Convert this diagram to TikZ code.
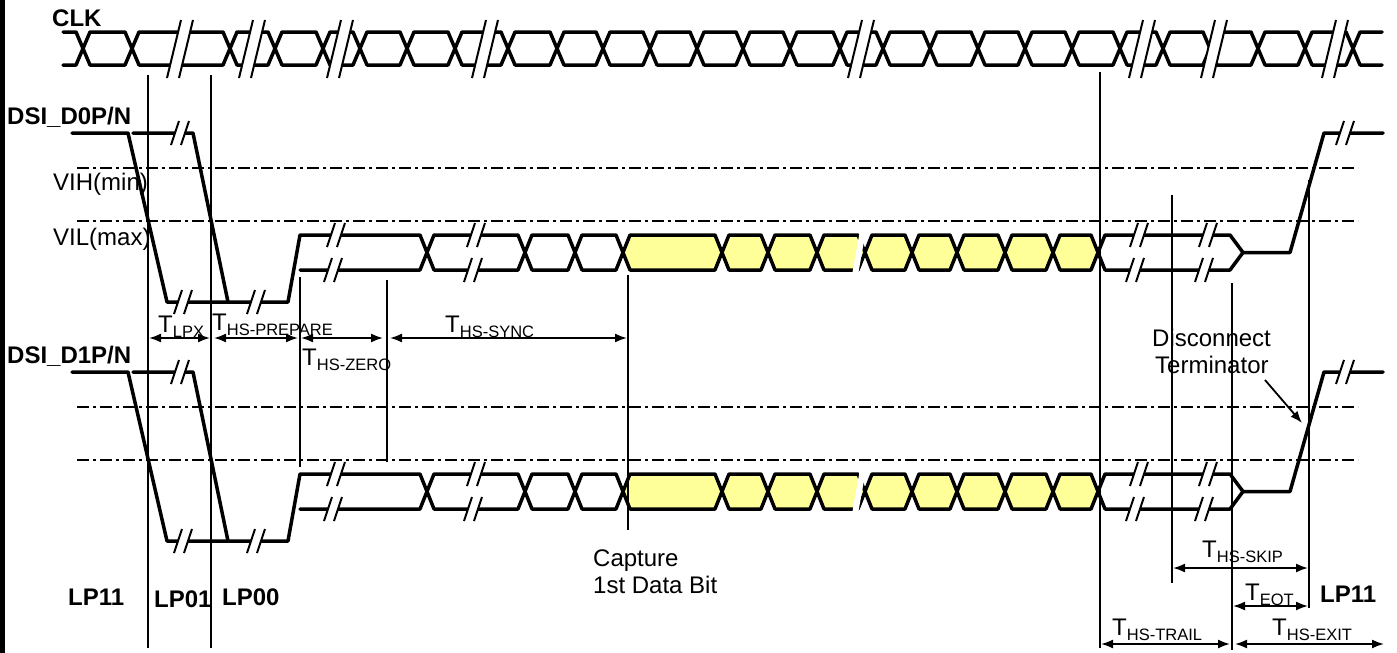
\documentclass[tikz,border=0pt]{standalone}
\usepackage{fontspec}
\setmainfont{Liberation Sans}
\usetikzlibrary{arrows.meta}
\definecolor{hsyellow}{RGB}{255,255,153}
\tikzset{
  wave/.style={line width=3.5pt, line join=round, line cap=round},
  vline/.style={line width=1.3pt},
  thr/.style={line width=1.5pt, dash pattern=on 12pt off 4pt on 3pt off 4pt},
  dimarrow/.style={line width=1.8pt, {Latex[length=12pt,width=9pt]}-{Latex[length=12pt,width=9pt]}},
  onearrow/.style={line width=1.8pt, -{Latex[length=12pt,width=9pt]}},
  lbl/.style={inner sep=0pt, anchor=base west, font=\fontsize{24}{27}\selectfont},
  blbl/.style={inner sep=0pt, anchor=base west, font=\fontsize{24}{27}\selectfont\bfseries},
  slashline/.style={line width=2pt},
}
\newcommand\tsub[1]{\raisebox{-5.5pt}{\fontsize{16.5}{17}\selectfont #1}}
\newcommand\hexc[5]{%
  \filldraw[wave, fill=#5] (#1,{(#3+#4)/2}) -- ({#1+7},#3) -- ({#2-7},#3) -- (#2,{(#3+#4)/2}) -- ({#2-7},#4) -- ({#1+7},#4) -- cycle;}
\newcommand\brk[2]{%
  \fill[white] ({#1-1},{#2-12}) -- ({#1+9},{#2-12}) -- ({#1+1},{#2+12}) -- ({#1-9},{#2+12}) -- cycle;
  \draw[slashline] ({#1-1},{#2-12}) -- ({#1-9},{#2+12});
  \draw[slashline] ({#1+9},{#2-12}) -- ({#1+1},{#2+12});}
\newcommand\cbrk[1]{%
  \fill[white] ({#1+1},20) -- ({#1+13},20) -- ({#1-1},78) -- ({#1-13},78) -- cycle;
  \draw[slashline] ({#1+1},20) -- ({#1-13},78);
  \draw[slashline] ({#1+13},20) -- ({#1-1},78);}
\newcommand\lanewave{%
  \draw[wave] (72,133) -- (128,133) -- (167,302) -- (288,302) -- (300,235) -- (420,235) -- (427,252.5) -- (420,270) -- (300,270);
  \draw[wave] (133,133) -- (193,133) -- (228,302);
  \foreach \a/\b in {427/525,525/575,575/623} {\hexc{\a}{\b}{235}{270}{white}}
  \foreach \a/\b in {623/722,722/768,768/817,817/865,865/912,912/957,957/1005,1005/1053,1053/1098} {\hexc{\a}{\b}{235}{270}{hsyellow}}
  \filldraw[wave, fill=white] (1098,252.5) -- (1105,235) -- (1230,235) -- (1243,252.5) -- (1230,270) -- (1105,270) -- cycle;
  \draw[wave] (1243,252.5) -- (1290,252.5) -- (1324,133) -- (1383,133);
  \fill[white] (860,230) -- (866,230) -- (858,275) -- (852,275) -- cycle;
  \brk{180}{133}
  \brk{183}{302}
  \brk{256}{302}
  \brk{336}{235}\brk{333}{270}
  \brk{476}{235}\brk{473}{270}
  \brk{1139}{235}\brk{1135}{270}
  \brk{1208}{235}\brk{1204}{270}
  \brk{1345}{133}
  \draw[thr] (77,168) -- (1358,168);
  \draw[thr] (77,221) -- (1358,221);
}
\begin{document}
\begin{tikzpicture}[x=1pt,y=-1pt]
\useasboundingbox (0,0) rectangle (1397,653);
\fill (0,0) rectangle (5,653);
% CLK
\node[blbl] (clk) at (52,27) {CLK};
\draw[wave] (63,32) -- (76,32) -- (83,48.5) -- (76,65) -- (63,65);
\foreach \a/\b in {83/132,132/230,230/275,275/323,323/360,360/407,407/455,455/508,508/557,557/603,603/650,650/697,697/743,743/790,790/840,840/883,883/930,930/978,978/1025,1025/1072,1072/1120,1120/1163,1163/1210,1210/1258,1258/1305,1305/1353}
  {\hexc{\a}{\b}{32}{65}{white}}
\draw[wave] (1382,32) -- (1360,32) -- (1353,48.5) -- (1360,65) -- (1382,65);
\cbrk{180}\cbrk{252}\cbrk{340}\cbrk{485}\cbrk{861}\cbrk{1142}\cbrk{1214}\cbrk{1335}
% lanes
\node[blbl] (d0) at (7,124) {DSI\_D0P/N};
\node[lbl] (vih) at (53,190) {VIH(min)};
\node[lbl] (vil) at (53,245) {VIL(max)};
\lanewave
\node[blbl] (d1) at (7,363) {DSI\_D1P/N};
\begin{scope}[yshift=-239pt]
\lanewave
\end{scope}
% vertical markers
\draw[vline] (148,75) -- (148,648);
\draw[vline] (211,75) -- (211,648);
\draw[vline] (300,277) -- (300,467);
\draw[vline] (387,280) -- (387,462);
\draw[vline] (628,275) -- (628,530);
\draw[vline] (1100,72) -- (1100,648);
\draw[vline] (1172,195) -- (1172,583);
\draw[vline] (1232,283) -- (1232,650);
\draw[vline] (1309,180) -- (1309,608);
% timing arrows
\draw[dimarrow] (149,338) -- (210,338);
\draw[dimarrow] (214,338) -- (298,338);
\draw[dimarrow] (301,338) -- (383,338);
\draw[dimarrow] (390,338) -- (627,338);
\draw[dimarrow] (1173,568) -- (1308,568);
\draw[dimarrow] (1233,606) -- (1308,606);
\draw[dimarrow] (1101,644) -- (1230,644);
\draw[dimarrow] (1235,644) -- (1384,644);
\node[lbl] (tlpx) at (158,332) {T\tsub{LPX}};
\node[lbl] (tprep) at (212,330) {T\tsub{HS-PREPARE}};
\node[lbl] (tzero) at (302,365) {T\tsub{HS-ZERO}};
\node[lbl] (tsync) at (445,332) {T\tsub{HS-SYNC}};
\node[lbl] (tskip) at (1202,557) {T\tsub{HS-SKIP}};
\node[lbl] (teot) at (1245,600) {T\tsub{EOT}};
\node[lbl] (ttrail) at (1112,635) {T\tsub{HS-TRAIL}};
\node[lbl] (texit) at (1272,635) {T\tsub{HS-EXIT}};
% other labels
\node[lbl] (cap1) at (593,566) {Capture};
\node[lbl] (cap2) at (593,593) {1st Data Bit};
\node[lbl] (disc) at (1152,346) {Disconnect};
\node[lbl] (term) at (1155,373) {Terminator};
\coordinate (dtail) at (1265,380);
\coordinate (dtip) at (1302,423);
\draw[onearrow] (dtail) -- (dtip);
\node[blbl] (lp11a) at (68,605) {LP11};
\node[blbl] (lp01) at (154,607) {LP01};
\node[blbl] (lp00) at (222,605) {LP00};
\node[blbl] (lp11b) at (1320,602) {LP11};
\end{tikzpicture}
\end{document}
